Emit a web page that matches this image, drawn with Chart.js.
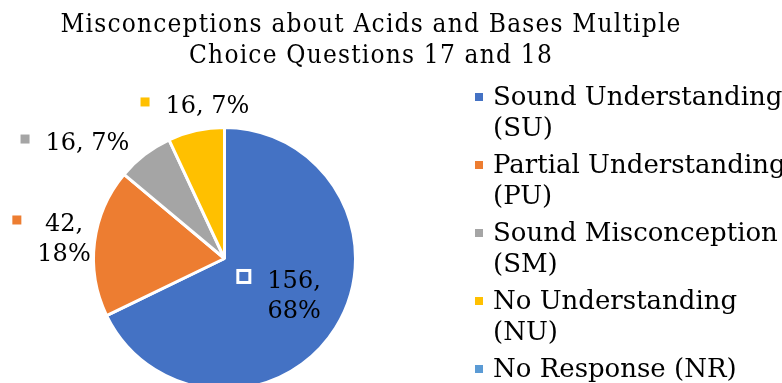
<!DOCTYPE html>
<html>
<head>
<meta charset="utf-8">
<script src="https://cdn.jsdelivr.net/npm/chart.js@4/dist/chart.umd.min.js"></script>
<style>
  html, body { margin: 0; padding: 0; background: #fff; overflow: hidden; }
  #wrap { position: relative; width: 782px; height: 400px; }
</style>
</head>
<body>
<div id="wrap"><canvas id="canvas-misconceptions"></canvas></div>
<script>
var titleLines = ['Misconceptions about Acids and Bases Multiple', 'Choice Questions 17 and 18'];
var categories = ['Sound Understanding (SU)', 'Partial Understanding (PU)', 'Sound Misconception (SM)', 'No Understanding (NU)', 'No Response (NR)'];
var responses = [156, 42, 16, 16, 0];
var sliceColors = ['#4472C4', '#ED7D31', '#A5A5A5', '#FFC000', '#5B9BD5'];

// where each data label sits, in pie radii from the centre (first baseline, text centre)
var labelSpots = [
    { dx: 0.531, dy: 0.225, wrap: true, box: 'inside' },
    { dx: -1.225, dy: -0.21, wrap: true },
    { dx: -1.046, dy: -0.828, wrap: false },
    { dx: -0.130, dy: -1.111, wrap: false },
    null
];

const serif = "'DejaVu Serif', 'Liberation Serif', serif";
const serifCondensed = "'DejaVu Serif Condensed', 'DejaVu Serif', serif";

function wrapText(ctx, text, maxWidth) {
    var words = text.split(' ');
    var lines = [];
    var line = '';
    words.forEach(function (w) {
        var test = line ? line + ' ' + w : w;
        if (line && ctx.measureText(test).width > maxWidth) {
            lines.push(line);
            line = w;
        } else {
            line = test;
        }
    });
    lines.push(line);
    return lines;
}

const extras = {
    id: 'extras',
    afterDraw: function (chart) {
        const c = chart.ctx;
        const arcs = chart.getDatasetMeta(0).data;
        const total = responses.reduce(function (a, b) { return a + b; }, 0);
        c.save();
        c.fillStyle = '#000';

        // title
        c.font = '26px ' + serifCondensed;
        c.letterSpacing = '1.2px';
        c.textAlign = 'center';
        c.textBaseline = 'alphabetic';
        c.fillText(titleLines[0], 371, 32);
        c.fillText(titleLines[1], 371, 63);
        c.letterSpacing = '0px';

        // data labels
        c.font = '24px ' + serif;
        responses.forEach(function (v, i) {
            var spot = labelSpots[i];
            if (!spot || v === 0) return;
            var arc = arcs[i];
            var r = arc.outerRadius;
            var pct = Math.round(v / total * 100) + '%';
            var lines = spot.wrap ? [v + ',', pct] : [v + ', ' + pct];
            var cx = arc.x + spot.dx * r;
            var by = arc.y + spot.dy * r;
            var widest = Math.max.apply(null, lines.map(function (l) { return c.measureText(l).width; }));
            c.textAlign = 'center';
            c.fillStyle = '#000';
            lines.forEach(function (l, j) {
                c.fillText(l, cx, by + j * 30);
            });
            var right = cx - widest / 2 - 16;
            var midY = by - 11;
            c.fillStyle = sliceColors[i];
            if (spot.box === 'inside') {
                c.strokeStyle = '#fff';
                c.lineWidth = 3;
                c.fillRect(right - 13.5, midY - 6.5, 12, 12);
                c.strokeRect(right - 13.5, midY - 6.5, 12, 12);
            } else {
                c.fillRect(right - 9, midY - 4.5, 9, 9);
            }
        });

        // legend
        c.font = '26px ' + serif;
        c.textAlign = 'left';
        categories.forEach(function (name, i) {
            var base = 105 + i * 68;
            c.fillStyle = sliceColors[i];
            c.fillRect(475, base - 12, 8, 8);
            c.fillStyle = '#000';
            wrapText(c, name, 300).forEach(function (l, j) {
                c.fillText(l, 493, base + j * 31);
            });
        });
        c.restore();
    }
};

const ctx = document.getElementById('canvas-misconceptions');
new Chart(ctx, {
    type: 'pie',
    data: {
        labels: categories,
        datasets: [{
            data: responses,
            backgroundColor: sliceColors,
            borderColor: '#fff',
            borderWidth: 3
        }]
    },
    options: {
        responsive: true,
        maintainAspectRatio: false,
        animation: false,
        layout: {
            padding: { left: 92, right: 425, top: 126, bottom: 9 }
        },
        plugins: {
            legend: { display: false },
            tooltip: { enabled: false },
            title: { display: false }
        }
    },
    plugins: [extras]
});
</script>
</body>
</html>
